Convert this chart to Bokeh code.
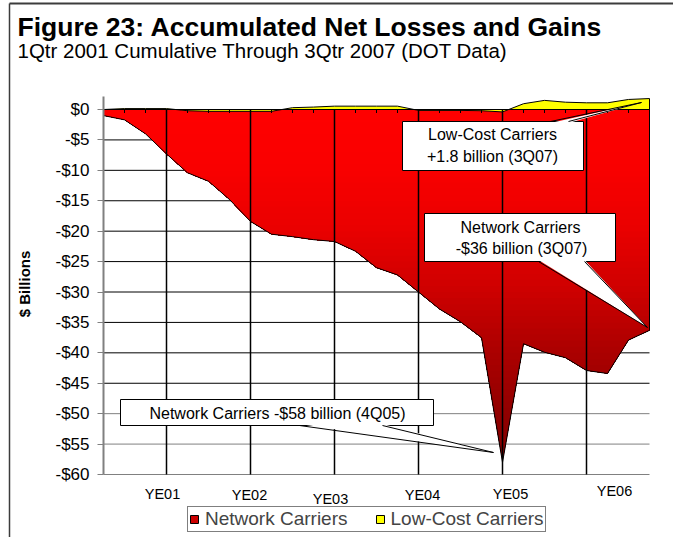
import numpy as np
from bokeh.plotting import figure
from bokeh.models import Range1d, FixedTicker, Label, Legend, LegendItem, LinearAxis
from bokeh.embed import file_html
from bokeh.resources import INLINE

# ---------------- data ----------------
quarters = ["1Q01", "2Q01", "3Q01", "4Q01", "1Q02", "2Q02", "3Q02", "4Q02",
            "1Q03", "2Q03", "3Q03", "4Q03", "1Q04", "2Q04", "3Q04", "4Q04",
            "1Q05", "2Q05", "3Q05", "4Q05", "1Q06", "2Q06", "3Q06", "4Q06",
            "1Q07", "2Q07", "3Q07"]
network = [-1.0, -1.7, -4.0, -7.3, -10.4, -11.8, -14.8, -18.4, -20.5, -20.9,
           -21.4, -21.7, -23.3, -26.0, -27.2, -30.0, -32.8, -34.9, -37.5, -58.0,
           -38.5, -39.9, -40.8, -42.9, -43.4, -37.9, -36.3]
low_cost = [0.0, 0.15, 0.15, 0.15, -0.2, -0.3, -0.3, -0.3, -0.3, 0.3,
            0.4, 0.55, 0.55, 0.55, 0.55, -0.15, -0.15, -0.15, -0.2, -0.4,
            0.95, 1.5, 1.2, 1.1, 1.1, 1.65, 1.8]
y_ticks = [0, -5, -10, -15, -20, -25, -30, -35, -40, -45, -50, -55, -60]
y_tick_labels = ["$0", "-$5", "-$10", "-$15", "-$20", "-$25", "-$30",
                 "-$35", "-$40", "-$45", "-$50", "-$55", "-$60"]
ye_labels = ["YE01", "YE02", "YE03", "YE04", "YE05", "YE06"]
ye_quarters = ["4Q01", "4Q02", "4Q03", "4Q04", "4Q05", "4Q06"]
series_names = ["Network Carriers", "Low-Cost Carriers"]
title_text = "Figure 23: Accumulated Net Losses and Gains"
subtitle_text = "1Qtr 2001 Cumulative Through 3Qtr 2007 (DOT Data)"
y_axis_title = "$ Billions"
callout_lcc = ["Low-Cost Carriers", "+1.8 billion (3Q07)"]
callout_net = ["Network Carriers", "-$36 billion (3Q07)"]
callout_peak = "Network Carriers -$58 billion (4Q05)"

# ---------------- layout (page pixels) ----------------
W, H = 673, 537
F_LEFT, F_RIGHT, F_TOP, F_BOTTOM = 103, 649, 96, 474   # chart area
ZERO_PY = 109
Y_MIN = -60
UNIT_PX = (F_BOTTOM - ZERO_PY) / (0 - Y_MIN)
Y_TOP = (ZERO_PY - F_TOP) / UNIT_PX
N = len(quarters)
XPX = (F_RIGHT - F_LEFT) / (N - 1)


def px2x(px):
    return (px - F_LEFT) / XPX


def px2y(py):
    return (ZERO_PY - py) / UNIT_PX


x = np.arange(N, dtype=float)
qidx = {q: i for i, q in enumerate(quarters)}

p = figure(width=W, height=H,
           x_range=Range1d(px2x(0), px2x(W)), y_range=Range1d(px2y(H), px2y(0)),
           x_axis_location=None, y_axis_location=None,
           output_backend="svg", toolbar_location=None, min_border=0,
           background_fill_color="white", border_fill_color="white")
p.outline_line_color = None
p.grid.visible = False

# page frame lines (top and left)
p.segment(x0=px2x(9), x1=px2x(W), y0=px2y(3), y1=px2y(3), line_color="#3c3c3c", line_width=2)
p.segment(x0=px2x(9), x1=px2x(9), y0=px2y(3), y1=px2y(H), line_color="#3c3c3c", line_width=1.5)

# horizontal gridlines (behind the areas)
grid_vals = [v for v in y_ticks if v != 0]
grid_cols = ["#000000" if v > -47.5 else "#808080" for v in grid_vals]
p.segment(x0=0, x1=N - 1, y0=grid_vals, y1=grid_vals, line_color=grid_cols, line_width=1)

# ---------------- network area with vertical gradient ----------------
depth_stops = [0, 10, 20, 30, 40, 50, 58]
red_stops = [255, 249, 234, 206, 172, 146, 128]


def clip_below(xv, yv, lo):
    xs, ys = [], []
    for i in range(len(xv)):
        xs.append(float(xv[i]))
        ys.append(max(yv[i], lo))
        if i < len(xv) - 1:
            a, b = yv[i], yv[i + 1]
            if (a - lo) * (b - lo) < 0:
                t = (lo - a) / (b - a)
                xs.append(float(xv[i] + t * (xv[i + 1] - xv[i])))
                ys.append(lo)
    return xs, ys


max_depth = int(np.ceil(-min(network)))
for d in range(max_depth, 0, -1):
    xs_d, ys_d = clip_below(x, network, -d)
    r = int(round(np.interp(d, depth_stops, red_stops)))
    p.varea(x=xs_d, y1=ys_d, y2=0, fill_color="#%02x0000" % r, fill_alpha=1)

p.line(x=[x[0]] + list(x) + [x[-1]], y=[0] + network + [0], line_color="black", line_width=1)

# ---------------- low-cost area ----------------
p.varea(x=x, y1=0, y2=low_cost, fill_color="#FFFF00")
p.line(x=[x[0]] + list(x) + [x[-1]], y=[0] + low_cost + [0], line_color="black", line_width=1)

# zero line with quarter ticks
tick_len = 3.5 / UNIT_PX
p.line(x=[x[0], x[-1]], y=[0, 0], line_color="black", line_width=1)
p.segment(x0=x, x1=x, y0=0, y1=-tick_len, line_color="black", line_width=1)

# year-end vertical lines
ye_x = [qidx[q] for q in ye_quarters]
p.segment(x0=ye_x, x1=ye_x, y0=0, y1=Y_MIN, line_color="black", line_width=1.5)

# ---------------- callouts ----------------
callouts = [
    dict(box=(402, 583, 121, 170), base=(550, 568), edge="top", tip=(641, 102)),
    dict(box=(424, 615, 213, 261), base=(538, 584), edge="bottom", tip=(647, 327)),
    dict(box=(120, 433, 399, 425), base=(299, 382), edge="bottom", tip=(493, 452)),
]
for c in callouts:
    L, R, T, B = c["box"]
    p.quad(left=px2x(L), right=px2x(R), top=px2y(T), bottom=px2y(B),
           fill_color="white", line_color="black", line_width=1)
    ey = T if c["edge"] == "top" else B
    inner = ey + 1.5 if c["edge"] == "top" else ey - 1.5
    b1, b2 = c["base"]
    tx, ty = c["tip"]
    p.patch(x=[px2x(b1), px2x(tx), px2x(b2)], y=[px2y(inner), px2y(ty), px2y(inner)],
            fill_color="white", line_color=None)
    p.multi_line(xs=[[px2x(b1), px2x(tx)], [px2x(b2), px2x(tx)]],
                 ys=[[px2y(ey), px2y(ty)], [px2y(ey), px2y(ty)]],
                 line_color="black", line_width=1)

FONT = "Liberation Sans"


def lab(text, px, py, size, align="center", bold=False, angle=0, baseline_px=True):
    # py is the text baseline in page pixels; placed via "middle" anchoring
    cy = py - 0.33 * size if baseline_px else py
    p.add_layout(Label(x=px2x(px), y=px2y(cy), text=text, text_align=align,
                       text_baseline="middle", text_font=FONT, angle=angle,
                       text_font_size=f"{size}px", text_color="black",
                       text_font_style="bold" if bold else "normal"))


lab(callout_lcc[0], 492, 139, 16)
lab(callout_lcc[1], 492, 161, 16)
lab(callout_net[0], 520, 232, 16)
lab(callout_net[1], 521, 253, 16)
lab(callout_peak, 277, 418, 16)

# year-end labels (hand placed in the original)
ye_label_pos = [(162, 498), (249, 499), (330, 503), (422, 499), (510, 498), (614, 495)]
for t, (lx, ly) in zip(ye_labels, ye_label_pos):
    lab(t, lx, ly, 14.5)

# titles
lab(title_text, 17, 35, 26.5, align="left", bold=True)
lab(subtitle_text, 17, 57, 20.5, align="left")

# y axis title
lab(y_axis_title, 24, 283.5, 15, bold=True, angle=np.pi / 2, baseline_px=False)

# ---------------- y axis ----------------
ax = LinearAxis(fixed_location=0, bounds=(Y_MIN, Y_TOP),
                ticker=FixedTicker(ticks=y_ticks, minor_ticks=[]))
ax.major_label_overrides = {v: s for v, s in zip(y_ticks, y_tick_labels)}
ax.axis_line_color = "#808080"
ax.axis_line_width = 2
ax.major_tick_line_color = "#808080"
ax.major_tick_out = 6
ax.major_tick_in = 0
ax.minor_tick_line_color = None
ax.major_label_standoff = 8
ax.major_label_text_font = FONT
ax.major_label_text_font_size = "17px"
ax.major_label_text_color = "black"
p.add_layout(ax, "left")

# ---------------- legend ----------------
# zero-size swatch renderers anchored at the first data point (invisible on the chart)
leg_net = p.quad(left=[x[0]], right=[x[0]], top=[0], bottom=[0],
                 fill_color="#CC0000", line_color="black", line_width=1)
leg_lcc = p.quad(left=[x[0]], right=[x[0]], top=[0], bottom=[0],
                 fill_color="#FFFF00", line_color="black", line_width=1)
legend = Legend(items=[LegendItem(label=series_names[0], renderers=[leg_net]),
                       LegendItem(label=series_names[1], renderers=[leg_lcc])],
                orientation="horizontal", location=(187, H - 532), margin=0,
                padding=1, spacing=27, label_standoff=6,
                glyph_width=10, glyph_height=10,
                label_text_font=FONT, label_text_font_size="19px",
                border_line_color="black", border_line_width=1,
                background_fill_color="white", background_fill_alpha=1)
p.add_layout(legend)

open("out.html", "w").write(file_html(p, INLINE))
